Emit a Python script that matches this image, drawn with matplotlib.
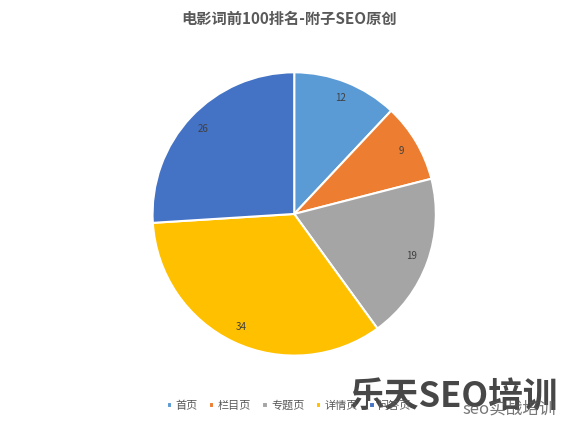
import numpy as np
import matplotlib.pyplot as plt

plt.rcParams['font.family'] = ['Noto Sans CJK SC', 'DejaVu Sans']

categories = ['首页', '栏目页', '专题页', '详情页', '问答页']
values = [12, 9, 19, 34, 26]
colors = ['#5b9bd5', '#ed7d31', '#a5a5a5', '#ffc000', '#4472c4']

fig = plt.figure(figsize=(5.78, 4.22), dpi=100)
ax = fig.add_axes([0.2615, 0.154, 0.495, 0.678])
wedges, texts = ax.pie(values, colors=colors, startangle=90, counterclock=False,
                       wedgeprops=dict(edgecolor='white', linewidth=1.5))
for w, v in zip(wedges, values):
    ang = np.deg2rad((w.theta1 + w.theta2) / 2)
    ax.text(0.88 * np.cos(ang), 0.88 * np.sin(ang), str(v), ha='center', va='center',
            fontsize=7, color='#404040')
ax.set_xlim(-1.01, 1.01)
ax.set_ylim(-1.01, 1.01)
ax.set_aspect('equal')

fig.text(0.5, 0.955, '电影词前100排名-附子SEO原创', ha='center', va='center',
         fontsize=11, fontweight='bold', color='#595959')

fig.legend(wedges, categories, loc='center', bbox_to_anchor=(0.5, 0.038), ncol=5,
           frameon=False, fontsize=8, handlelength=0.5, handleheight=0.5,
           handletextpad=0.3, columnspacing=1.0, labelcolor='#595959')

# watermark
fig.text(0.605, 0.06, '乐天SEO培训', fontsize=25, fontweight='bold', color='#333333',
         va='center', ha='left', alpha=0.9)
fig.text(0.8, 0.03, 'seo实战培训', fontsize=12, color='#555555', va='center', ha='left', alpha=0.8)

fig.savefig('out.png', dpi=100)
